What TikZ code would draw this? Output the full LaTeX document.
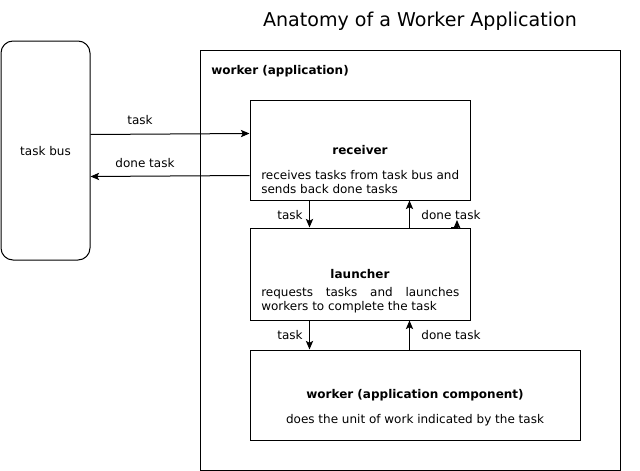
\documentclass[tikz,border=0pt]{standalone}
\usepackage{fontspec}
\setmainfont{DejaVu Sans}
\usetikzlibrary{arrows.meta,calc}
\tikzset{
  box/.style={draw, line width=0.75pt, inner sep=0pt},
  lbl/.style={font=\fontsize{9pt}{10.5pt}\selectfont, inner sep=0pt},
  blbl/.style={font=\fontsize{9pt}{10.5pt}\selectfont\bfseries, inner sep=0pt},
  arr/.style={line width=0.75pt, -{Stealth[length=6.5pt,width=5.5pt,inset=1.5pt]}},
}
\begin{document}
\begin{tikzpicture}[x=0.75pt,y=-0.75pt]
\useasboundingbox (0,0) rectangle (640,471);
% title
\node[font=\fontsize{14.3pt}{17pt}\selectfont, inner sep=0pt] (title) at (420,21) {Anatomy of a Worker Application};
% task bus
\node[box, rounded corners=9pt, minimum width=89*0.75pt, minimum height=219*0.75pt] (bus) at (45.5,150.5) {};
\node[lbl] (buslbl) at (45.5,151) {task bus};
% outer worker
\node[box, minimum width=420*0.75pt, minimum height=420*0.75pt] (outer) at (410,260) {};
\node[blbl, anchor=west] (outerlbl) at (211,71) {worker (application)};
% receiver
\node[box, minimum width=220*0.75pt, minimum height=100*0.75pt] (rec) at (360,150) {};
\node[blbl] (reclbl) at (360,150) {receiver};
\node[lbl, anchor=north west, align=left] (recdesc) at (261,170) {receives tasks from task bus and\\sends back done tasks};
% launcher
\node[box, minimum width=220*0.75pt, minimum height=92*0.75pt] (launch) at (360,274) {};
\node[blbl] (launchlbl) at (360,274) {launcher};
\node[lbl, anchor=north west, align=left] (launchdesc) at (261,287) {\hbox to 148.5pt{requests\hfill tasks\hfill and\hfill launches}\\workers to complete the task};
% worker component
\node[box, minimum width=330*0.75pt, minimum height=90*0.75pt] (comp) at (415,395) {};
\node[blbl] (complbl) at (415,395) {worker (application component)};
\node[lbl] (compdesc) at (415,420) {does the unit of work indicated by the task};
% bus <-> receiver
\draw[arr] ($(bus.north east)+(0,94)$) -- ($(rec.north west)+(0,34)$);
\node[lbl] (l1) at (140,120) {task};
\draw[arr] ($(rec.north west)+(0,76)$) -- ($(bus.north east)+(0,136)$);
\node[lbl] (l2) at (145,163) {done task};
% receiver <-> launcher
\draw[arr] ($(rec.south west)+(60,0)$) -- ($(launch.north west)+(60,0)$);
\node[lbl] (l3) at (290,215) {task};
\draw[arr] ($(launch.north west)+(160,0)$) -- ($(rec.south west)+(160,0)$);
\node[lbl] (l4) at (451,215) {done task};
\coordinate (s1) at (451,227);
\coordinate (s2) at (457,220);
\draw[arr] (s1) -| (s2);
% launcher <-> component
\draw[arr] ($(launch.south west)+(60,0)$) -- ($(comp.north west)+(60,0)$);
\node[lbl] (l5) at (290,335) {task};
\draw[arr] ($(comp.north west)+(160,0)$) -- ($(launch.south west)+(160,0)$);
\node[lbl] (l6) at (451,335) {done task};
\end{tikzpicture}
\end{document}
